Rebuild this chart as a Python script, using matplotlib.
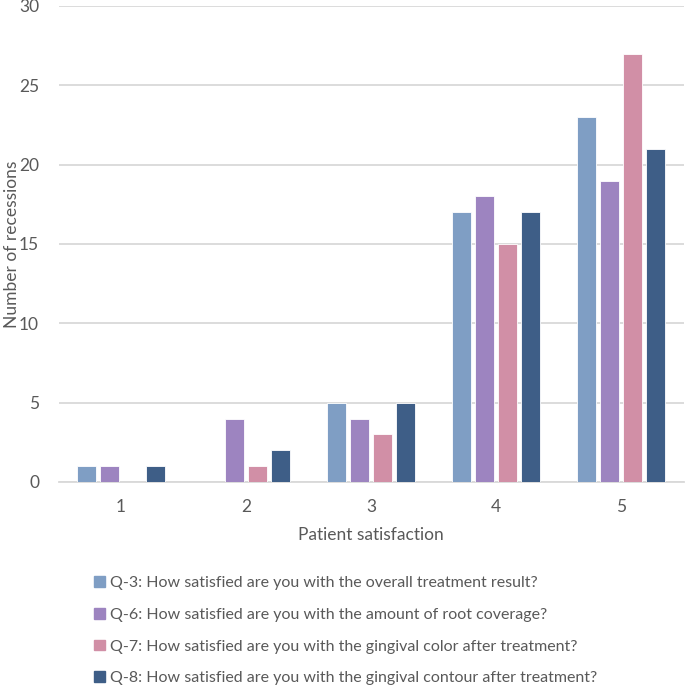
import matplotlib.pyplot as plt
import matplotlib.patches as mpatches
import numpy as np

plt.rcParams['font.family'] = ['Lato', 'DejaVu Sans']

categories = ['1', '2', '3', '4', '5']
q3 = [1, 0, 5, 17, 23]
q6 = [1, 4, 4, 18, 19]
q7 = [0, 1, 3, 15, 27]
q8 = [1, 2, 5, 17, 21]
labels = ['Q-3: How satisfied are you with the overall treatment result?',
          'Q-6: How satisfied are you with the amount of root coverage?',
          'Q-7: How satisfied are you with the gingival color after treatment?',
          'Q-8: How satisfied are you with the gingival contour after treatment?']
colors = ['#7F9EC4', '#9D84C0', '#D18FA6', '#3E5E87']

txt = '#595959'
fig = plt.figure(figsize=(6.85, 6.87), dpi=100)
ax = fig.add_axes([58.5 / 685, 1 - 482 / 687, 625 / 685, 476 / 687])

x = np.arange(len(categories))
step = 0.184
width = 0.146
series = [q3, q6, q7, q8]
for i, vals in enumerate(series):
    ax.bar(x + (i - 1.5) * step, vals, width, color=colors[i],
           edgecolor='white', linewidth=0.6, zorder=3)

ax.set_xlim(-0.5, 4.5)
ax.set_ylim(0, 30)
ax.set_yticks(range(0, 31, 5))
ax.set_xticks(x)
ax.set_xticklabels(categories)
ax.grid(axis='y', color='#D9D9D9', linewidth=1.3, zorder=0)
for s in ['top', 'right', 'left']:
    ax.spines[s].set_visible(False)
ax.spines['bottom'].set_color('#D9D9D9')
ax.spines['bottom'].set_linewidth(1.3)
ax.tick_params(length=0, colors=txt, labelsize=12.5)
ax.tick_params(axis='x', pad=12)
ax.tick_params(axis='y', pad=14)
ax.set_ylabel('Number of recessions', color=txt, fontsize=12.5)
ax.yaxis.set_label_coords(-38 / 625, 0.5)
ax.set_xlabel('Patient satisfaction', color=txt, fontsize=12.5, labelpad=9)

handles = [mpatches.Patch(color=c) for c in colors]
fig.legend(handles, labels, loc='upper left', bbox_to_anchor=(80 / 685, 1 - 562 / 687),
           frameon=False, fontsize=11.5, labelcolor=txt, handlelength=0.65,
           handleheight=0.65, handletextpad=0.3, labelspacing=1.1)

fig.savefig('out.png', dpi=100)
